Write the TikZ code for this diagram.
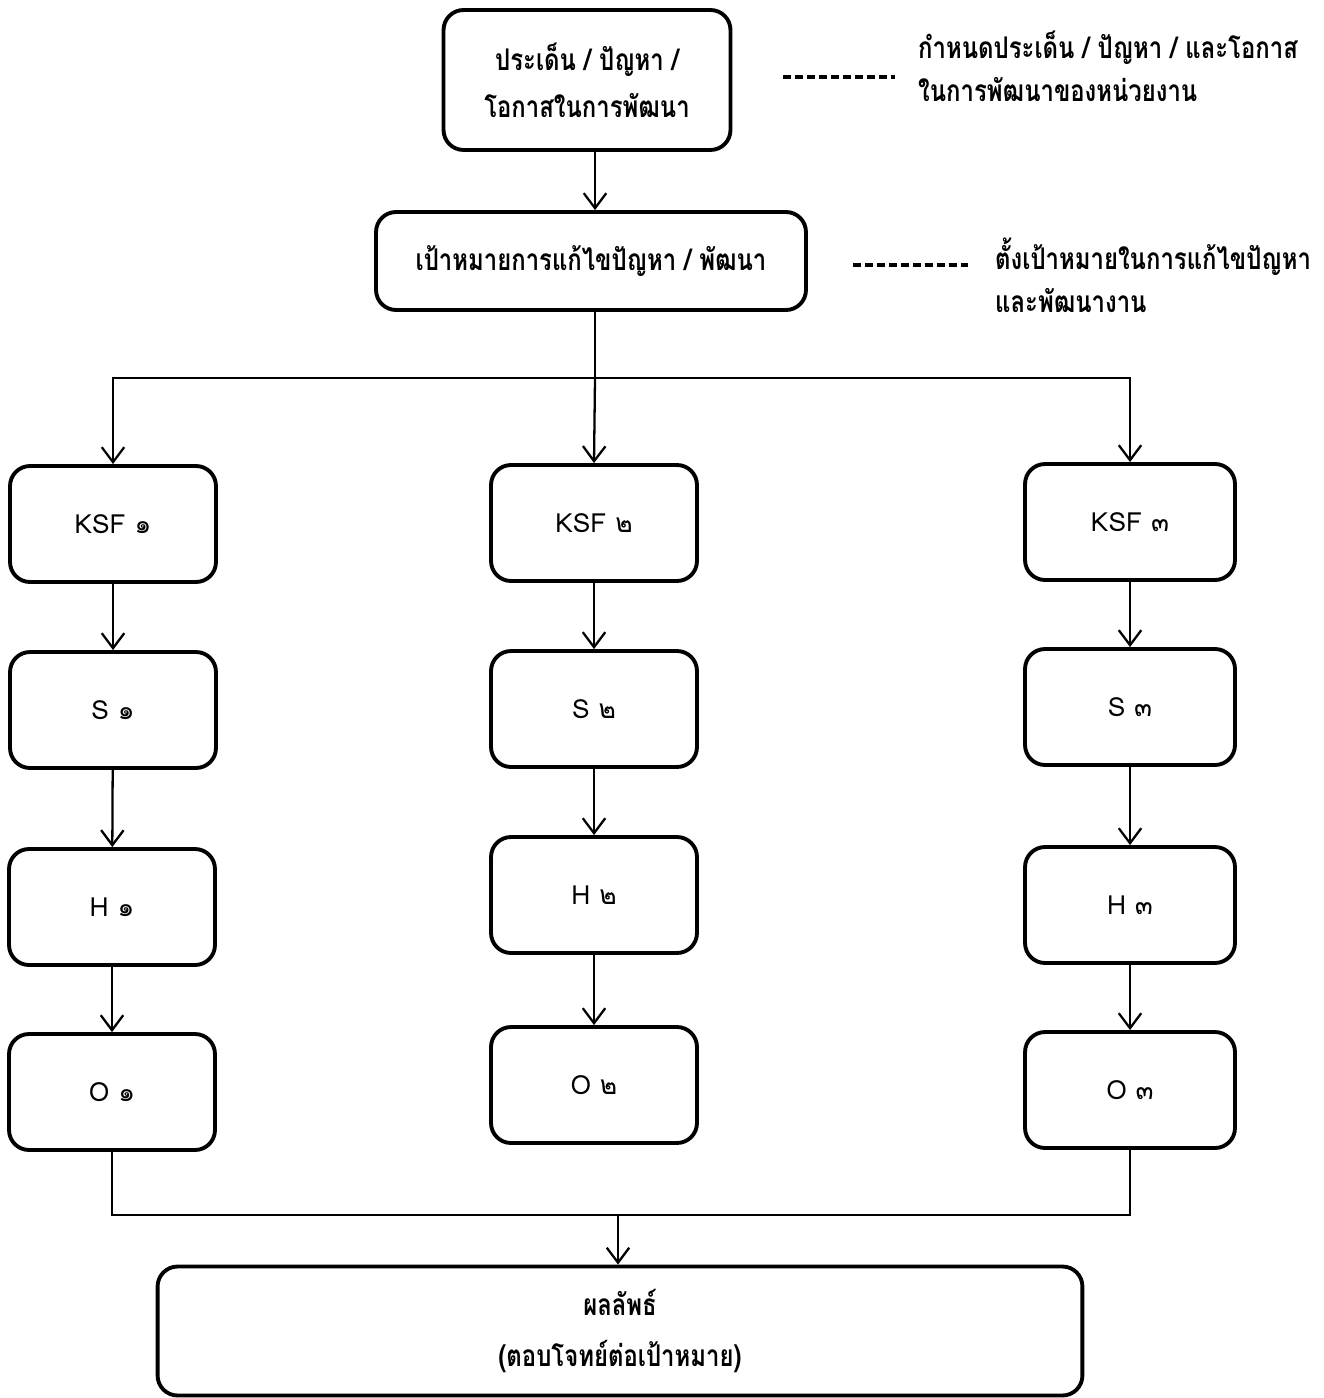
\documentclass[tikz,border=0pt]{standalone}
\usepackage{fontspec}
\setmainfont[Script=Thai]{Loma}
\newfontfamily\thaicond[Script=Thai, FakeStretch=0.8]{Loma}
\usetikzlibrary{arrows.meta}

\tikzset{
  stepbox/.style={draw, line width=2.2pt, rounded corners=4mm, minimum width=4.12cm, minimum height=2.32cm, font=\fontsize{15}{18}\selectfont},
  bigbox/.style={draw, line width=2.2pt, rounded corners=4mm, align=center, font=\thaicond\bfseries\fontsize{17}{27}\selectfont},
  link/.style={line width=1.3pt, -{Straight Barb[length=3mm,width=4.5mm,line width=1.3pt]}},
  plain/.style={line width=1.3pt},
  leader/.style={line width=1.8pt, dash pattern=on 4.5pt off 2.3pt},
  note/.style={anchor=west, align=left, font=\thaicond\bfseries\fontsize{17}{24.5}\selectfont}
}

\begin{document}
\begin{tikzpicture}[x=0.02cm, y=-0.02cm]
  \useasboundingbox (0,0) rectangle (1323,1398);

  % top of the chart
  \node[bigbox, minimum width=5.74cm, minimum height=2.8cm] (issue) at (587,80) {ประเด็น / ปัญหา /\\โอกาสในการพัฒนา};
  \node[bigbox, minimum width=8.6cm, minimum height=1.96cm] (goal) at (591,261) {เป้าหมายการแก้ไขปัญหา / พัฒนา};
  \draw[link] (issue.south -| 595,0) -- (goal.north -| 595,0);

  % notes on the right
  \node[note] (note1) at (912,66) {กำหนดประเด็น / ปัญหา / และโอกาส\\ในการพัฒนาของหน่วยงาน};
  \coordinate (d1) at (783,77);
  \draw[leader] (d1) -- ++(112,0);
  \node[note] (note2) at (989,275) {ตั้งเป้าหมายในการแก้ไขปัญหา\\และพัฒนางาน};
  \coordinate (d2) at (853,265);
  \draw[leader] (d2) -- ++(115,0);

  % column 1
  \node[stepbox] (ksf1) at (113,524) {KSF ๑};
  \node[stepbox] (s1) at (113,710) {S ๑};
  \node[stepbox] (h1) at (112,907) {H ๑};
  \node[stepbox] (o1) at (112,1092) {O ๑};

  % column 2
  \node[stepbox] (ksf2) at (594,523) {KSF ๒};
  \node[stepbox] (s2) at (594,709) {S ๒};
  \node[stepbox] (h2) at (594,895) {H ๒};
  \node[stepbox] (o2) at (594,1085) {O ๒};

  % column 3
  \node[stepbox, minimum width=4.2cm] (ksf3) at (1130,522) {KSF ๓};
  \node[stepbox, minimum width=4.2cm] (s3) at (1130,707) {S ๓};
  \node[stepbox, minimum width=4.2cm] (h3) at (1130,905) {H ๓};
  \node[stepbox, minimum width=4.2cm] (o3) at (1130,1090) {O ๓};

  % split into the three columns
  \coordinate (split) at (595,378);
  \draw[plain] (goal.south -| split) -- (split);
  \draw[link] (split) -| (ksf1.north);
  \draw[link] (split) -- (ksf2.north);
  \draw[link] (split) -| (ksf3.north);

  \foreach \c in {1,2,3} {
    \draw[link] (ksf\c) -- (s\c);
    \draw[link] (s\c) -- (h\c);
    \draw[link] (h\c) -- (o\c);
  }

  % result
  \node[bigbox, minimum width=18.5cm, minimum height=2.58cm, font=\thaicond\bfseries\fontsize{17}{29.5}\selectfont] (result) at (620,1331) {ผลลัพธ์\\(ตอบโจทย์ต่อเป้าหมาย)};
  \coordinate (join) at (618,1215);
  \draw[plain] (o1.south) |- (join);
  \draw[plain] (o3.south) |- (join);
  \draw[link] (join) -- (join |- result.north);
\end{tikzpicture}
\end{document}
